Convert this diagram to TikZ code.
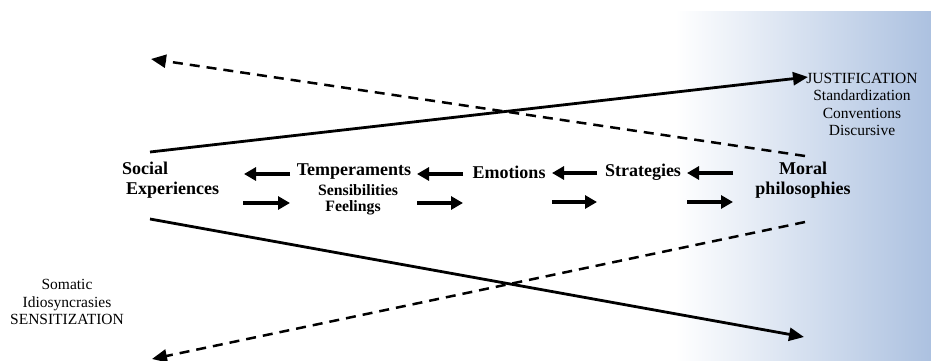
\documentclass[tikz,border=0pt]{standalone}
\usepackage{fontspec}
\setmainfont{Liberation Serif}
\usetikzlibrary{arrows.meta}
\definecolor{gradblue}{RGB}{172,193,224}
\tikzset{
  big/.style={font=\bfseries\fontsize{18}{20}\selectfont, inner sep=0pt},
  sub/.style={font=\bfseries\fontsize{15.8}{18}\selectfont, inner sep=0pt},
  plain/.style={font=\fontsize{15.5}{17.6}\selectfont, inner sep=0pt, align=center},
  solidarrow/.style={line width=2.8pt, -{Triangle[length=15pt,width=13pt]}},
  dasharrow/.style={line width=2.5pt, dash pattern=on 10pt off 7pt, -{Triangle[length=15pt,width=13pt]}},
  harrow/.style={line width=3.4pt, -{Triangle[length=12pt,width=13pt]}},
}
\begin{document}
\begin{tikzpicture}[x=1pt,y=-1pt]
\useasboundingbox (0,0) rectangle (931,361);
\fill[white] (0,0) rectangle (931,361);
\shade[left color=white, right color=gradblue] (675,12) rectangle (931,361);

% labels
\node[big, anchor=west, align=left] (soc) at (122,180) {Social\\\hspace*{4pt}Experiences};
\node[big] (temp) at (354,172) {Temperaments};
\node[sub] (sens) at (358,190) {Sensibilities};
\node[sub] (feel) at (353,208) {Feelings};
\node[big] (emo) at (509,172) {Emotions};
\node[big] (strat) at (643,172) {Strategies};
\node[big, align=center] (moral) at (803,180) {Moral\\philosophies};
\node[plain] (just) at (862,104.5) {JUSTIFICATION\\Standardization\\Conventions\\Discursive};
\node[plain] (soma) at (67,302) {Somatic\\Idiosyncrasies\\SENSITIZATION};

% coordinates for connectors
\coordinate (a1s) at (290,174); \coordinate (a1e) at (244,174);
\coordinate (a2s) at (463,174); \coordinate (a2e) at (417,174);
\coordinate (a3s) at (597,173); \coordinate (a3e) at (552,173);
\coordinate (a4s) at (733,173); \coordinate (a4e) at (687,173);
\coordinate (b1s) at (243,203); \coordinate (b1e) at (290,203);
\coordinate (b2s) at (417,203); \coordinate (b2e) at (463,203);
\coordinate (b3s) at (552,202); \coordinate (b3e) at (597,202);
\coordinate (b4s) at (687,202); \coordinate (b4e) at (733,202);

\coordinate (usS) at (150,152); \coordinate (usE) at (808,77);
\coordinate (udS) at (805,156); \coordinate (udE) at (151,59);
\coordinate (lsS) at (150,219); \coordinate (lsE) at (804,337);
\coordinate (ldS) at (805,222); \coordinate (ldE) at (152,359);

% horizontal arrows
\foreach \n in {a1,a2,a3,a4,b1,b2,b3,b4}{
  \draw[harrow] (\n s) -- (\n e);
}

% diagonals
\draw[solidarrow] (usS) -- (usE);
\draw[solidarrow] (lsS) -- (lsE);
\draw[dasharrow] (udS) -- (udE);
\draw[dasharrow] (ldS) -- (ldE);
\end{tikzpicture}
\end{document}
